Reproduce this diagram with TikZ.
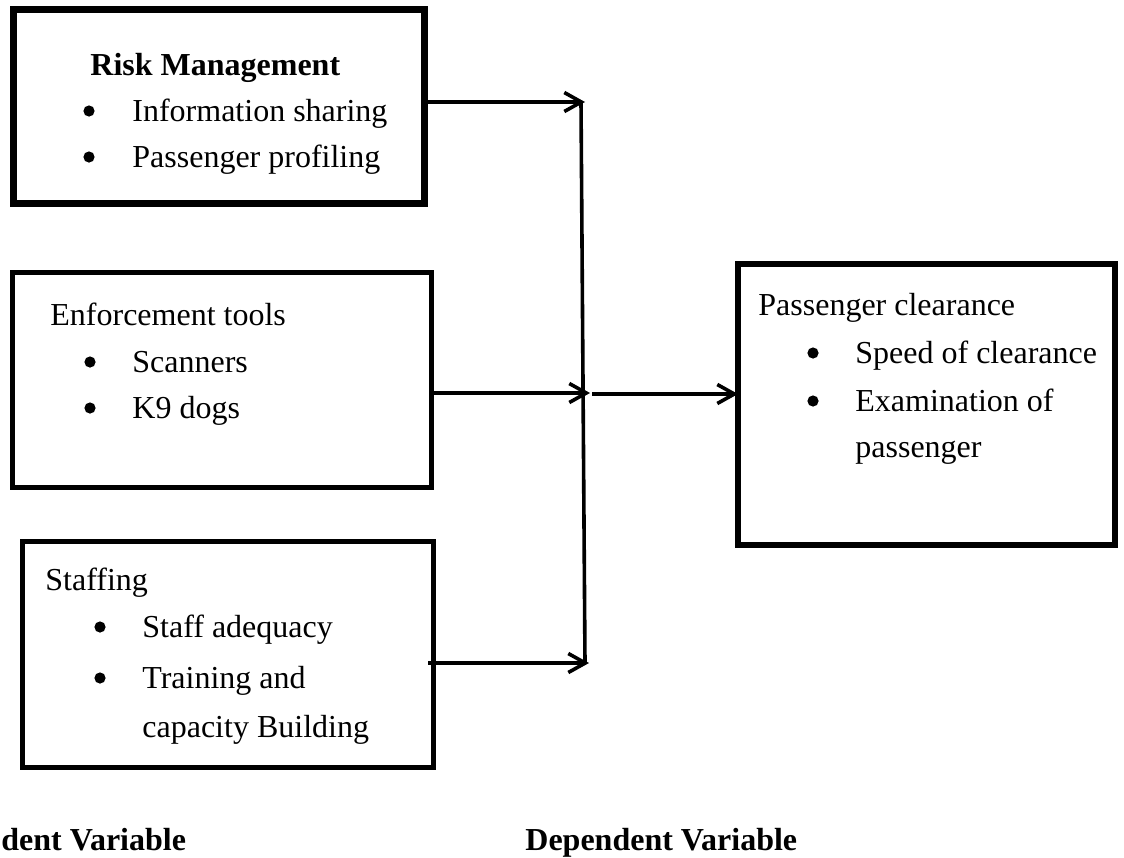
\documentclass[tikz,border=0pt]{standalone}
\usepackage{fontspec}
\setmainfont{Liberation Serif}
\usetikzlibrary{arrows.meta}
\begin{document}
\begin{tikzpicture}[x=0.5pt,y=-0.5pt,
  box/.style={draw, line width=2.5pt, anchor=north west, inner sep=0pt, outer sep=0pt},
  thickbox/.style={box, line width=3.5pt},
  txt/.style={anchor=base west, inner sep=0pt, font=\fontsize{16}{19}\selectfont},
  btxt/.style={txt, font=\fontsize{16}{19}\selectfont\bfseries},
  bul/.style={circle, fill=black, inner sep=0pt, minimum size=5.6pt},
  conn/.style={line width=1.8pt},
  arr/.style={conn, -{Straight Barb[length=8.5pt,width=9.5pt,line width=1.8pt]}}
]
\useasboundingbox (0,0) rectangle (1124,857);
% boxes
\node[thickbox, minimum width=205.5pt, minimum height=97pt] (risk) at (13,9) {};
\node[box, minimum width=209.5pt, minimum height=107.5pt] (enf) at (12,272) {};
\node[box, minimum width=205.5pt, minimum height=113pt] (staff) at (22,541) {};
\node[box, line width=2.8pt, minimum width=188.5pt, minimum height=140.5pt] (pass) at (738,264) {};
% texts box 1
\node[btxt] (t11) at (90,75) {Risk Management};
\node[bul] (b12) at (89,111) {};
\node[txt] (t12) at (132,121) {Information sharing};
\node[bul] (b13) at (89,157) {};
\node[txt] (t13) at (132,167) {Passenger profiling};
% texts box 2
\node[txt] (t21) at (50,325) {Enforcement tools};
\node[bul] (b22) at (90,362) {};
\node[txt] (t22) at (132,372) {Scanners};
\node[bul] (b23) at (90,408) {};
\node[txt] (t23) at (132,418) {K9 dogs};
% texts box 3
\node[txt] (t31) at (45,590) {Staffing};
\node[bul] (b32) at (100,627) {};
\node[txt] (t32) at (142,637) {Staff adequacy};
\node[bul] (b33) at (100,678) {};
\node[txt] (t33) at (142,688) {Training and};
\node[txt] (t34) at (142,737) {capacity Building};
% texts box 4
\node[txt] (t41) at (758,315) {Passenger clearance};
\node[bul] (b42) at (813,353) {};
\node[txt] (t42) at (855,363) {Speed of clearance};
\node[bul] (b43) at (813,401) {};
\node[txt] (t43) at (855,411) {Examination of};
\node[txt] (t44) at (855,457) {passenger};
% bottom labels
\node[btxt] (ind) at (1,850) {dent Variable};
\node[btxt] (dep) at (525,850) {Dependent Variable};
% connectors
\coordinate (j1) at (585,102);
\coordinate (j2) at (590,393);
\coordinate (j3) at (589,663);
\coordinate (vt) at (581,102);
\coordinate (vb) at (585,663);
\coordinate (j2o) at (592,394);
\coordinate (s3) at (428,663);
\draw[conn] (vt) -- (vb);
\draw[arr] (risk.east |- j1) -- (j1);
\draw[arr] (enf.east |- j2) -- (j2);
\draw[arr] (s3) -- (j3);
\draw[arr] (j2o) -- (pass.west |- j2o);
\end{tikzpicture}
\end{document}
